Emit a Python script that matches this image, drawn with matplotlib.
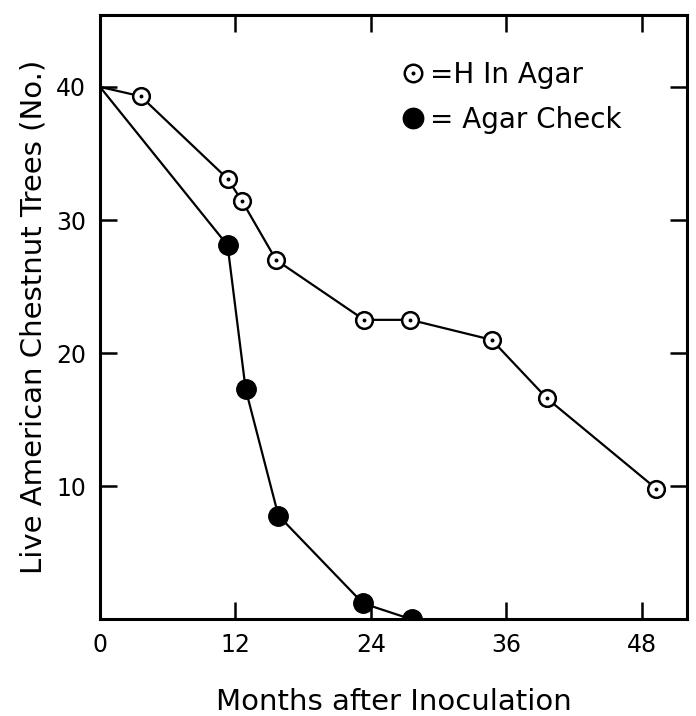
import matplotlib
matplotlib.use("Agg")
import matplotlib.pyplot as plt
from matplotlib.legend_handler import HandlerTuple

# H in agar (open circles with centre dot)
h_months = [0, 3.6, 11.3, 12.6, 15.6, 23.4, 27.5, 34.7, 39.6, 49.3]
h_live = [40, 39.3, 33.1, 31.4, 27.0, 22.5, 22.5, 21.0, 16.6, 9.8]

# agar check (filled circles)
c_months = [0, 11.3, 12.9, 15.8, 23.3, 27.6]
c_live = [40, 28.1, 17.3, 7.8, 1.2, 0.0]

xticks = [0, 12, 24, 36, 48]
yticks = [10, 20, 30, 40]

plt.rcParams['font.family'] = ['DejaVu Sans']

fig = plt.figure(figsize=(6.96, 7.16), dpi=100)
ax = fig.add_axes([0.1437, 0.135, 0.8433, 0.844])

# open circle series
ax.plot(h_months, h_live, color='black', lw=1.6, zorder=2)
h_ring, = ax.plot(h_months[1:], h_live[1:], 'o', ms=12, mfc='white', mec='black',
                  mew=1.8, zorder=3)
h_dot, = ax.plot(h_months[1:], h_live[1:], 'o', ms=1.8, color='black', zorder=4)

# filled circle series
ax.plot(c_months, c_live, color='black', lw=1.6, zorder=2)
c_pts, = ax.plot(c_months[1:], c_live[1:], 'o', ms=14, color='black', zorder=3)

ax.set_xlim(0, 52)
ax.set_ylim(0, 45.4)
ax.set_xticks(xticks)
ax.set_yticks(yticks)
ax.tick_params(direction='in', length=12, width=1.8, top=True, right=True,
               labelsize=17, pad=10)
for s in ax.spines.values():
    s.set_linewidth(2.2)

ax.set_xlabel('Months after Inoculation', fontsize=21, labelpad=22)
ax.set_ylabel('Live American Chestnut Trees (No.)', fontsize=21, labelpad=6)

leg = ax.legend([(h_ring, h_dot), c_pts], ['=H In Agar', '= Agar Check'],
                handler_map={tuple: HandlerTuple(ndivide=1, pad=0)},
                loc='upper left', bbox_to_anchor=(0.47, 0.965), frameon=False,
                fontsize=20, handlelength=0.9, handletextpad=0.15,
                labelspacing=0.6, markerscale=1.05)

fig.savefig('out.png', dpi=100)
